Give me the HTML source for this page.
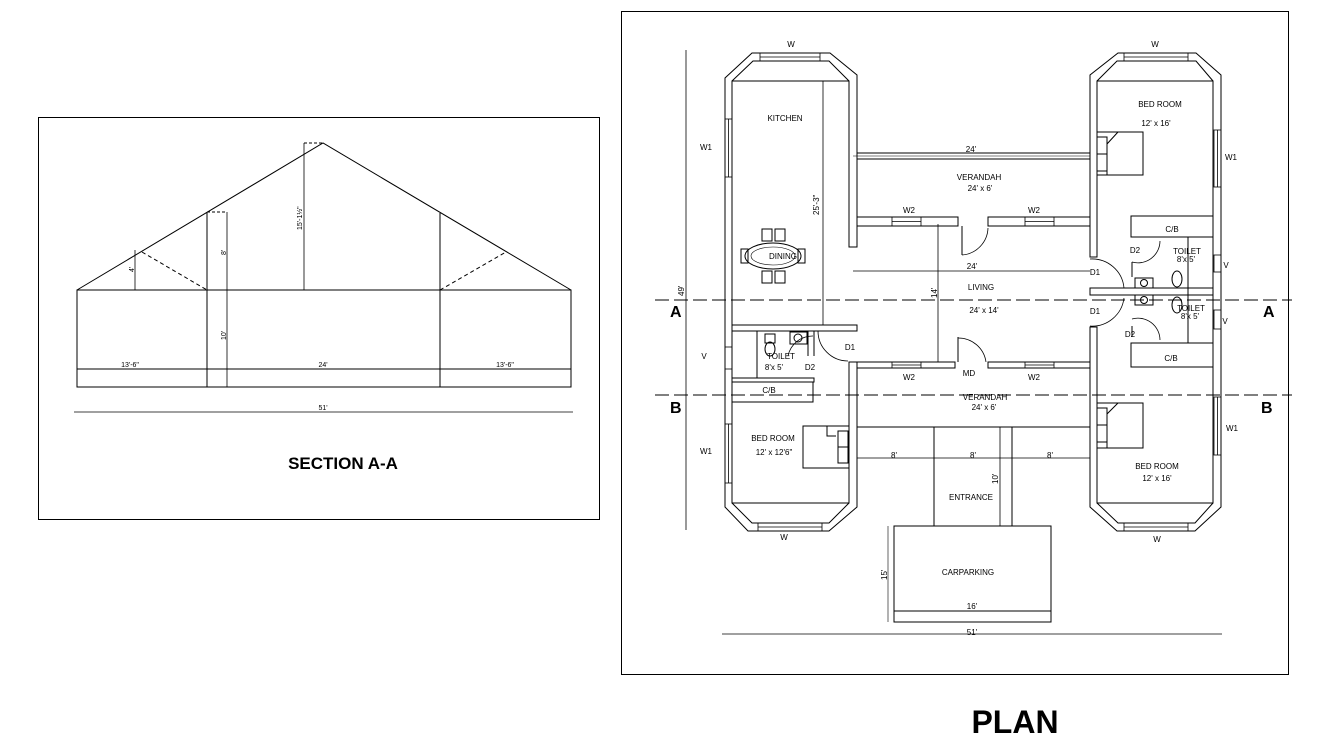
<!DOCTYPE html>
<html><head><meta charset="utf-8"><style>
html,body{margin:0;padding:0;background:#fff;}
svg{display:block;}
text{font-family:"Liberation Sans",sans-serif;fill:#000;}
.t{font-size:8px;}
.b{font-weight:bold;}
</style></head><body>
<svg width="1344" height="746" viewBox="0 0 1344 746" xmlns="http://www.w3.org/2000/svg">
<g fill="none" stroke="#000" stroke-width="1">
<!-- SECTION frame -->
<rect x="38.5" y="117.5" width="561" height="402"/>
<polyline points="77,290 323,143 571,290"/>
<rect x="77" y="290" width="494" height="97" fill="none"/>
<line x1="77" y1="369" x2="571" y2="369"/>
<line x1="207" y1="212" x2="207" y2="387"/>
<line x1="440" y1="213" x2="440" y2="387"/>
<line x1="227" y1="212" x2="227" y2="387" stroke-width="0.8"/>
<line x1="207" y1="212" x2="227" y2="212" stroke-dasharray="3,2"/>
<line x1="304" y1="143" x2="304" y2="290" stroke-width="0.8"/>
<line x1="304" y1="143" x2="323" y2="143" stroke-dasharray="3,2"/>
<line x1="135" y1="250" x2="135" y2="290" stroke-width="0.8"/>
<g stroke-dasharray="4,3">
<line x1="77" y1="290" x2="571" y2="290"/>
<line x1="142" y1="252" x2="207" y2="290"/>
<line x1="440" y1="290" x2="506" y2="252"/>
</g>
<line x1="74" y1="412" x2="573" y2="412" stroke-width="0.8"/>
<!-- PLAN frame -->
<rect x="621.5" y="11.5" width="667" height="663"/>
<!-- left wing outer/inner -->
<polygon points="752,53 830,53 857,75 857,247 849,247 849,81 732,81 732,503 849,503 849,362 857,362 857,507 829,531 748,531 725,507 725,78"/>
<polyline points="732,81 753,61 829,61 849,81"/>
<polyline points="732,503 752,523 829,523 849,503"/>
<!-- right wing -->
<polygon points="1118,53 1196,53 1221,75 1221,507 1195,531 1117,531 1090,507 1090,327 1097,327 1097,503 1213,503 1213,81 1097,81 1097,257 1090,257 1090,75"/>
<polyline points="1097,81 1117,61 1196,61 1213,81"/>
<polyline points="1097,503 1118,523 1195,523 1213,503"/>
<!-- verandah top -->
<line x1="857" y1="153" x2="1090" y2="153"/>
<line x1="857" y1="159" x2="1090" y2="159"/>
<!-- upper verandah lower wall -->
<polyline points="857,217 958,217 958,226 857,226"/>
<polyline points="1090,217 988,217 988,226 1090,226"/>
<line x1="962" y1="226" x2="962" y2="255"/>
<path d="M962,255 A28,28 0 0 0 988,228" stroke-width="0.8"/>
<!-- living dims -->
<line x1="853" y1="271" x2="1090" y2="271" stroke-width="0.8"/>
<line x1="853" y1="156" x2="1090" y2="156" stroke-width="0.6"/>
<line x1="938" y1="224" x2="938" y2="362" stroke-width="0.8"/>
<!-- lower verandah top wall -->
<polyline points="857,362 955,362 955,368 857,368"/>
<polyline points="1090,362 988,362 988,368 1090,368"/>
<line x1="958" y1="362" x2="958" y2="337"/>
<path d="M958,338 A28,28 0 0 1 986,362" stroke-width="0.8"/>
<line x1="857" y1="427" x2="1090" y2="427"/>
<line x1="934" y1="427" x2="934" y2="526"/>
<line x1="1012" y1="427" x2="1012" y2="526"/>
<line x1="1000" y1="427" x2="1000" y2="526" stroke-width="0.8"/>
<line x1="857" y1="458" x2="1090" y2="458" stroke-width="0.8"/>
<rect x="894" y="526" width="157" height="96"/>
<line x1="894" y1="611" x2="1051" y2="611"/>
<line x1="888" y1="526" x2="888" y2="622" stroke-width="0.6"/>
<line x1="722" y1="634" x2="1222" y2="634" stroke-width="0.8"/>
<line x1="686" y1="50" x2="686" y2="530" stroke-width="0.8"/>
<!-- windows -->
<g stroke-width="0.8">
<rect x="892" y="217" width="29" height="9"/><line x1="892" y1="221.5" x2="921" y2="221.5"/>
<rect x="1025" y="217" width="29" height="9"/><line x1="1025" y1="221.5" x2="1054" y2="221.5"/>
<rect x="892" y="362" width="29" height="6"/><line x1="892" y1="365" x2="921" y2="365"/>
<rect x="1025" y="362" width="29" height="6"/><line x1="1025" y1="365" x2="1054" y2="365"/>
<rect x="760" y="53" width="60" height="8"/><line x1="760" y1="57" x2="820" y2="57"/>
<rect x="758" y="523" width="64" height="8"/><line x1="758" y1="527" x2="822" y2="527"/>
<rect x="1124" y="53" width="64" height="8"/><line x1="1124" y1="57" x2="1188" y2="57"/>
<rect x="1124" y="523" width="64" height="8"/><line x1="1124" y1="527" x2="1188" y2="527"/>
<rect x="725" y="119" width="7" height="58"/><line x1="728.5" y1="119" x2="728.5" y2="177"/>
<rect x="725" y="424" width="7" height="59"/><line x1="728.5" y1="424" x2="728.5" y2="483"/>
<rect x="725" y="347" width="7" height="22"/>
<rect x="1214" y="130" width="7" height="57"/><line x1="1217.5" y1="130" x2="1217.5" y2="187"/>
<rect x="1214" y="397" width="7" height="58"/><line x1="1217.5" y1="397" x2="1217.5" y2="455"/>
<rect x="1214" y="255" width="7" height="17"/>
<rect x="1214" y="310" width="7" height="19"/>
</g>
<!-- kitchen dims -->
<line x1="823" y1="81" x2="823" y2="325" stroke-width="0.8"/>
<!-- left wing middle -->
<rect x="732" y="325" width="125" height="6"/>
<line x1="757" y1="331" x2="757" y2="378"/>
<line x1="808" y1="331" x2="808" y2="356"/>
<line x1="814" y1="331" x2="814" y2="356"/>
<rect x="732" y="378" width="82" height="4"/>
<rect x="732" y="382" width="81" height="20"/>
<path d="M818,331 A30,30 0 0 0 848,361" stroke-width="0.8"/>
<path d="M788,356 A25,25 0 0 1 813,336" stroke-width="0.8"/>
<rect x="765" y="334" width="10" height="9"/><ellipse cx="770" cy="349" rx="5" ry="7"/>
<rect x="790" y="332" width="17" height="12"/><circle cx="798" cy="338" r="4"/>
<rect x="803" y="426" width="46" height="42"/>
<rect x="838" y="431" width="10" height="16"/><rect x="838" y="447" width="10" height="16"/>
<polyline points="827,426 827,436 836,436"/>
<!-- dining -->
<ellipse cx="773" cy="256" rx="28" ry="13"/>
<ellipse cx="773" cy="256" rx="22" ry="9" stroke-width="0.6"/>
<rect x="762" y="229" width="10" height="12"/><rect x="775" y="229" width="10" height="12"/>
<rect x="762" y="271" width="10" height="12"/><rect x="775" y="271" width="10" height="12"/>
<rect x="741" y="249" width="7" height="14"/><rect x="798" y="249" width="7" height="14"/>
<!-- right wing internals -->
<rect x="1097" y="132" width="46" height="43"/>
<rect x="1097" y="137" width="10" height="17"/><rect x="1097" y="154" width="10" height="17"/>
<polyline points="1118,132 1107,144 1107,175"/>
<rect x="1097" y="403" width="46" height="45"/>
<rect x="1097" y="408" width="10" height="17"/><rect x="1097" y="425" width="10" height="17"/>
<polyline points="1118,403 1107,414 1107,448"/>
<rect x="1131" y="216" width="82" height="21"/>
<rect x="1131" y="343" width="82" height="24"/>
<rect x="1090" y="288" width="123" height="7"/>
<line x1="1188" y1="237" x2="1188" y2="343"/>
<line x1="1132" y1="262" x2="1132" y2="277"/>
<line x1="1132" y1="326" x2="1132" y2="337"/>
<path d="M1132,262 A22,22 0 0 0 1160,241" stroke-width="0.8"/>
<path d="M1132,319 A22,22 0 0 1 1160,340" stroke-width="0.8"/>
<path d="M1090,259 A32,32 0 0 1 1124,288" stroke-width="0.8"/>
<path d="M1090,326 A32,32 0 0 0 1124,298" stroke-width="0.8"/>
<rect x="1135" y="278" width="18" height="10"/><circle cx="1144" cy="283" r="3.5"/>
<rect x="1135" y="295" width="18" height="10"/><circle cx="1144" cy="300" r="3.5"/>
<ellipse cx="1177" cy="279" rx="5" ry="8"/><ellipse cx="1177" cy="305" rx="5" ry="8"/>
<!-- section lines -->
<g stroke-dasharray="14,5">
<line x1="655" y1="300" x2="1292" y2="300"/>
<line x1="655" y1="395" x2="1292" y2="395"/>
</g>
</g>
<!-- SECTION texts -->
<g class="t">
<text x="130" y="367" text-anchor="middle" font-size="7">13'-6"</text>
<text x="323" y="367" text-anchor="middle" font-size="7">24'</text>
<text x="505" y="367" text-anchor="middle" font-size="7">13'-6"</text>
<text x="323" y="410" text-anchor="middle" font-size="7">51'</text>
<text x="226" y="340" font-size="7" transform="rotate(-90 226 340)">10'</text>
<text x="226" y="255" font-size="7" transform="rotate(-90 226 255)">8'</text>
<text x="302" y="230" font-size="7" transform="rotate(-90 302 230)">15'-1½"</text>
<text x="134" y="272" font-size="7" transform="rotate(-90 134 272)">4'</text>
</g>
<text x="343" y="469" text-anchor="middle" font-size="17" class="b">SECTION A-A</text>
<text x="1015" y="733" text-anchor="middle" font-size="32" class="b">PLAN</text>
<g font-size="16" class="b">
<text x="670" y="317">A</text><text x="1263" y="317">A</text>
<text x="670" y="413">B</text><text x="1261" y="413">B</text>
</g>
<g class="t" text-anchor="middle">
<text x="791" y="47">W</text><text x="1155" y="47">W</text>
<text x="784" y="540">W</text><text x="1157" y="542">W</text>
<text x="706" y="150">W1</text><text x="706" y="454">W1</text>
<text x="1231" y="160">W1</text><text x="1232" y="431">W1</text>
<text x="704" y="359">V</text><text x="1226" y="268">V</text><text x="1225" y="324">V</text>
<text x="785" y="121">KITCHEN</text>
<text x="783" y="259">DINING</text>
<text x="979" y="180">VERANDAH</text><text x="980" y="191">24' x 6'</text>
<text x="909" y="213">W2</text><text x="1034" y="213">W2</text>
<text x="909" y="380">W2</text><text x="1034" y="380">W2</text>
<text x="971" y="152">24'</text><text x="972" y="269">24'</text>
<text x="981" y="290">LIVING</text><text x="984" y="313">24' x 14'</text>
<text x="969" y="376">MD</text>
<text x="985" y="400">VERANDAH</text><text x="984" y="410">24' x 6'</text>
<text x="894" y="458">8'</text><text x="973" y="458">8'</text><text x="1050" y="458">8'</text>
<text x="971" y="500">ENTRANCE</text>
<text x="968" y="575">CARPARKING</text>
<text x="972" y="609">16'</text>
<text x="972" y="635">51'</text>
<text x="773" y="441">BED ROOM</text><text x="774" y="455">12' x 12'6"</text>
<text x="781" y="359">TOILET</text><text x="774" y="370">8'x 5'</text>
<text x="810" y="370">D2</text><text x="850" y="350">D1</text>
<text x="769" y="393">C/B</text>
<text x="1160" y="107">BED ROOM</text><text x="1156" y="126">12' x 16'</text>
<text x="1157" y="469">BED ROOM</text><text x="1157" y="481">12' x 16'</text>
<text x="1172" y="232">C/B</text><text x="1171" y="361">C/B</text>
<text x="1187" y="254">TOILET</text><text x="1186" y="262">8'x 5'</text>
<text x="1191" y="311">TOILET</text><text x="1190" y="319">8'x 5'</text>
<text x="1135" y="253">D2</text><text x="1130" y="337">D2</text>
<text x="1095" y="275">D1</text><text x="1095" y="314">D1</text>
</g>
<g class="t" font-size="7">
<text x="819" y="215" transform="rotate(-90 819 215)">25'-3"</text>
<text x="937" y="298" transform="rotate(-90 937 298)">14'</text>
<text x="998" y="484" transform="rotate(-90 998 484)">10'</text>
<text x="887" y="580" transform="rotate(-90 887 580)">15'</text>
<text x="684" y="296" transform="rotate(-90 684 296)">49'</text>
</g>
</svg>
</body></html>
